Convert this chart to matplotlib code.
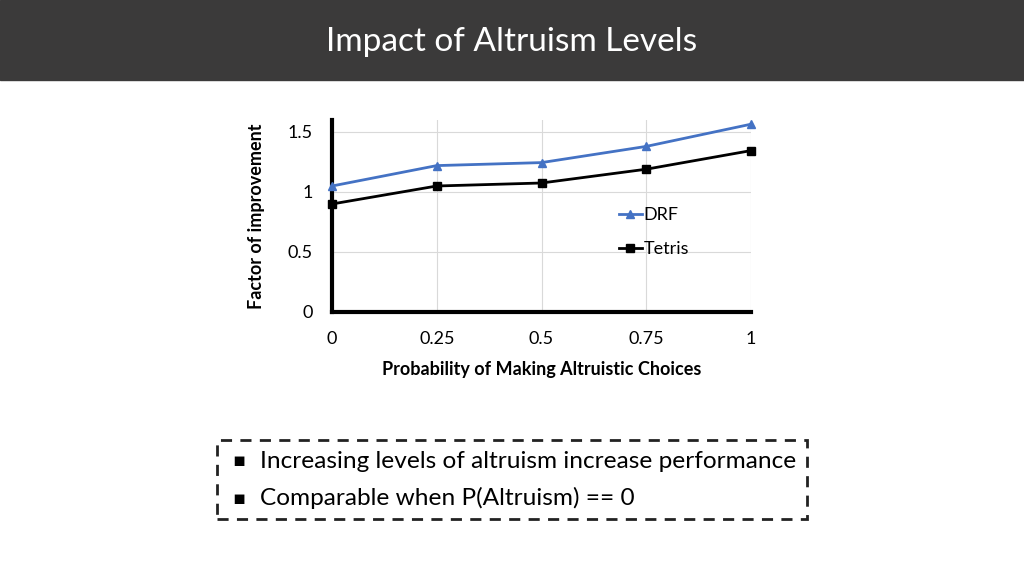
import matplotlib
matplotlib.use("Agg")
import matplotlib.pyplot as plt
from matplotlib.patches import Rectangle

plt.rcParams["font.family"] = "Lato"

x = [0, 0.25, 0.5, 0.75, 1]
xlabels = ["0", "0.25", "0.5", "0.75", "1"]
drf = [1.05, 1.22, 1.245, 1.38, 1.565]
tetris = [0.90, 1.05, 1.075, 1.19, 1.345]
yticks = [0, 0.5, 1, 1.5]
ylabels = ["0", "0.5", "1", "1.5"]

fig = plt.figure(figsize=(10.24, 5.76), dpi=100)
fig.patches.append(Rectangle((0, 1 - 80/576), 1, 80/576, transform=fig.transFigure,
                             color="#3b3a3a", zorder=0))
fig.text(0.5, 1 - 42/576, "Impact of Altruism Levels", ha="center", va="center",
         color="white", fontsize=24)

ax = fig.add_axes([332/1024, 1 - 312/576, 419/1024, 192/576])
ax.plot(x, drf, color="#4472c4", marker="^", markersize=6, lw=2, label="DRF", clip_on=False, zorder=3)
ax.plot(x, tetris, color="black", marker="s", markersize=6, lw=2, label="Tetris", clip_on=False, zorder=3)
ax.set_xlim(0, 1)
ax.set_ylim(0, 1.6)
ax.set_xticks(x)
ax.set_xticklabels(xlabels, fontsize=13)
ax.set_yticks(yticks)
ax.set_yticklabels(ylabels, fontsize=13)
ax.grid(True, color="#d9d9d9", lw=0.8)
ax.set_axisbelow(True)
for s in ["top", "right"]:
    ax.spines[s].set_visible(False)
ax.spines["left"].set_linewidth(3)
ax.spines["bottom"].set_linewidth(3)
ax.tick_params(length=0, pad=14)
ax.set_xlabel("Probability of Making Altruistic Choices", fontsize=13, fontweight="bold", labelpad=10)
ax.set_ylabel("Factor of improvement", fontsize=13, fontweight="bold", labelpad=16)
ax.legend(loc="upper left", bbox_to_anchor=(0.645, 0.63), frameon=False, fontsize=13,
          handlelength=1.3, handletextpad=0.1, labelspacing=1.0, markerfirst=True)

fig.patches.append(Rectangle((217/1024, 1 - 519/576), 590/1024, 79/576, transform=fig.transFigure,
                             fill=False, ec="#222222", lw=2, ls=(0, (4, 3))))
fig.text(232/1024, 1 - 461/576, "▪", fontsize=14, va="center", family="DejaVu Sans")
fig.text(260/1024, 1 - 461/576, "Increasing levels of altruism increase performance", fontsize=17.6, va="center")
fig.text(232/1024, 1 - 498/576, "▪", fontsize=14, va="center", family="DejaVu Sans")
fig.text(260/1024, 1 - 498/576, "Comparable when P(Altruism) == 0", fontsize=17.6, va="center")

fig.savefig("out.png", dpi=100)
